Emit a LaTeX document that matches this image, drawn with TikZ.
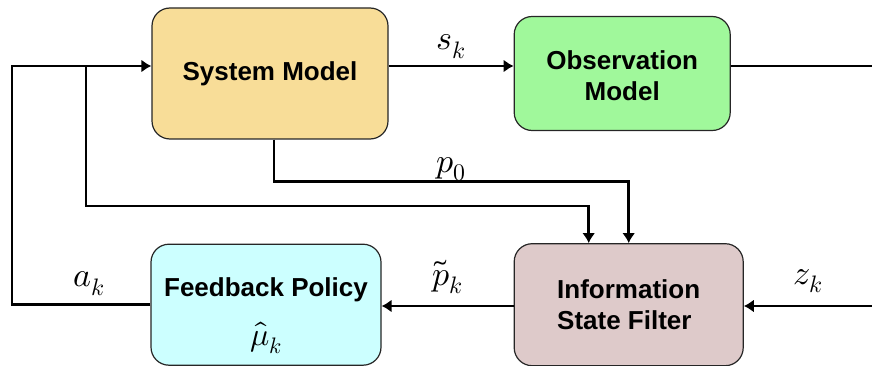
\documentclass[tikz,border=0pt]{standalone}
\usepackage{unicode-math}
\setmainfont{Liberation Sans}
\setmathfont{Latin Modern Math}
\usetikzlibrary{arrows.meta,positioning}

\definecolor{sysfill}{RGB}{248,221,152}
\definecolor{obsfill}{RGB}{160,248,155}
\definecolor{polfill}{RGB}{204,255,255}
\definecolor{filtfill}{RGB}{222,202,202}

% lower a centred block of lines inside its box
\newcommand{\lowered}[2]{\raisebox{-#1}[\height][\depth]{\begin{tabular}{@{}c@{}}#2\end{tabular}}}

\tikzset{
	block/.style={draw=black!85, line width=1.2pt, rounded corners=18pt, align=center, inner sep=0pt,
		font=\fontsize{26}{31}\selectfont\bfseries},
	flow/.style={line width=2.8pt},
	lbl/.style={font=\fontsize{34}{36}\selectfont, inner sep=0pt, anchor=base, yshift=#1},
	lbl/.default=17pt
}

\begin{document}
\begin{tikzpicture}[x=1pt,y=-1pt,>={Latex[length=10pt,width=13pt]}]
	\useasboundingbox (0,0) rectangle (872,366);
	\node[block,fill=sysfill,minimum width=236pt,minimum height=131pt] (sys) at (270,73.5) {System Model};
	\node[block,fill=obsfill,minimum width=216pt,minimum height=114pt,right=125pt of sys] (obs) {\lowered{5pt}{Observation\\ Model}};
	\node[block,fill=filtfill,minimum width=229pt,minimum height=122pt,align=left,below=112pt of obs.south west,anchor=north west] (filt) {Information\\ State Filter};
	\node[block,fill=polfill,minimum width=230pt,minimum height=121pt,left=132pt of filt] (pol) {\lowered{10pt}{Feedback Policy\\[16pt] \fontsize{32}{34}\selectfont$\hat{\mu}_k$}};
	\coordinate (tl) at (12,66);
	\coordinate (br) at (86,66);
	\coordinate (bend) at (86,206);
	\coordinate (obsout) at (872,66);
	\coordinate (zin) at (872,306);
	% action loop back to the system
	\draw[flow,->] (pol.west) -- node[lbl=18pt,xshift=8pt] {$a_k$} (pol.west -| tl) -- (tl) -- (sys.west |- tl);
	\draw[flow,->] (br) -- (bend) -| ([xshift=-40pt]filt.north);
	\draw[flow,->] ([xshift=4pt]sys.south) -- ++(0,42) -| node[lbl=9pt,pos=0.25] {$p_0$} (filt.north);
	\draw[flow,->] (sys.east |- tl) -- node[lbl=16pt] {$s_k$} (obs.west |- tl);
	\draw[flow] (obs.east |- tl) -- (obsout);
	\draw[flow,->] (zin) -- node[lbl=22pt] {$z_k$} (filt.east |- zin);
	\draw[flow,->] (filt.west |- zin) -- node[lbl=21pt] {$\widetilde{p}_k$} (pol.east |- zin);
\end{tikzpicture}
\end{document}
